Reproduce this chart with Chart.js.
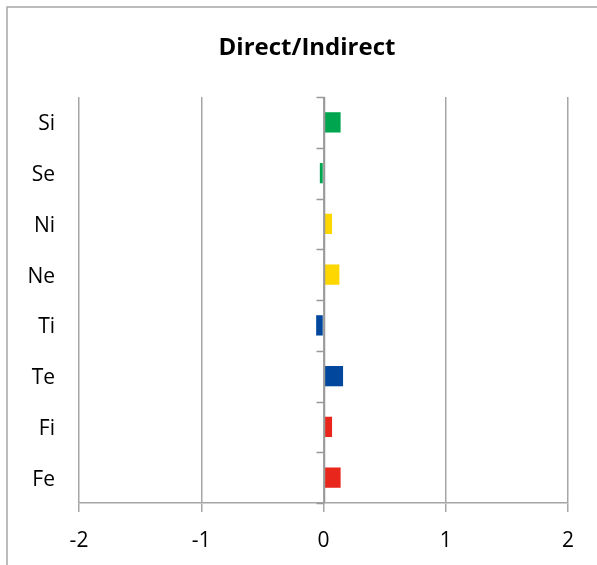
<!DOCTYPE html>
<html>
<head>
<meta charset="utf-8">
<script src="https://cdn.jsdelivr.net/npm/chart.js@4/dist/chart.umd.min.js"></script>
<style>
  html, body { margin: 0; padding: 0; background: #fff; }
  #wrap { position: relative; width: 597px; height: 565px; }
</style>
</head>
<body>
<div id="wrap"><canvas id="chart" width="597" height="565"></canvas></div>
<script>
// Categories listed top to bottom
const categories = ['Si', 'Se', 'Ni', 'Ne', 'Ti', 'Te', 'Fi', 'Fe'];
const values = [0.14, -0.03, 0.07, 0.13, -0.06, 0.16, 0.07, 0.14];
const barColors = ['#00a54f', '#00a54f', '#ffd700', '#ffd700', '#00479d', '#00479d', '#e8261b', '#e8261b'];
const xTicks = [-2, -1, 0, 1, 2];
const titleText = 'Direct/Indirect';

const FONT = '"Open Sans", Lato, sans-serif';
const GRID = '#a6a6a6';

// Outer frame (left and top edges), chart heading, and the vertical axis at zero with its category tick marks
const framePlugin = {
  id: 'frame',
  beforeDraw(chart) {
    const ctx = chart.ctx;
    ctx.save();
    ctx.strokeStyle = '#a6a6a6';
    ctx.lineWidth = 1.5;
    ctx.beginPath();
    ctx.moveTo(7, chart.height + 2);
    ctx.lineTo(7, 7);
    ctx.lineTo(chart.width + 2, 7);
    ctx.stroke();
    ctx.fillStyle = '#000';
    ctx.font = 'bold 24px ' + FONT;
    ctx.textAlign = 'center';
    ctx.textBaseline = 'middle';
    ctx.fillText(titleText, 307, 48);
    ctx.restore();
  },
  afterDatasetsDraw(chart) {
    const ctx = chart.ctx;
    const xs = chart.scales.x, ys = chart.scales.y;
    const x0 = Math.round(xs.getPixelForValue(0)) + 0.5;
    const half = (ys.getPixelForValue(1) - ys.getPixelForValue(0)) / 2;
    ctx.save();
    ctx.strokeStyle = '#999999';
    ctx.lineWidth = 1.5;
    ctx.beginPath();
    ctx.moveTo(x0, chart.chartArea.top);
    ctx.lineTo(x0, chart.chartArea.bottom);
    for (let i = 0; i <= categories.length; i++) {
      const y = Math.round(ys.getPixelForValue(i) - half) + 0.5;
      ctx.moveTo(x0 - 8, y);
      ctx.lineTo(x0, y);
    }
    ctx.stroke();
    ctx.restore();
  }
};

new Chart(document.getElementById('chart'), {
  type: 'bar',
  data: {
    labels: categories,
    datasets: [{
      data: values,
      backgroundColor: barColors,
      borderWidth: 0,
      barPercentage: 0.4,
      categoryPercentage: 1.0
    }]
  },
  options: {
    indexAxis: 'y',
    responsive: false,
    animation: false,
    layout: { padding: { left: 0, right: 29, top: 97, bottom: 0 } },
    plugins: {
      legend: { display: false },
      tooltip: { enabled: false },
      title: { display: false }
    },
    scales: {
      x: {
        min: -2,
        max: 2,
        afterBuildTicks(scale) { scale.ticks = xTicks.map(v => ({ value: v })); },
        afterFit(scale) { scale.height = 62; },
        grid: { color: GRID, lineWidth: 1.5, drawTicks: true, tickLength: 9, tickColor: GRID },
        border: { display: true, color: GRID, width: 1.5 },
        ticks: { color: '#000', padding: 16, font: { family: FONT, size: 21 } }
      },
      y: {
        afterFit(scale) { scale.width = 79; },
        grid: { display: false, drawTicks: false },
        border: { display: false },
        ticks: { color: '#000', padding: 24, labelOffset: 2, font: { family: FONT, size: 21 } }
      }
    }
  },
  plugins: [framePlugin]
});
</script>
</body>
</html>
